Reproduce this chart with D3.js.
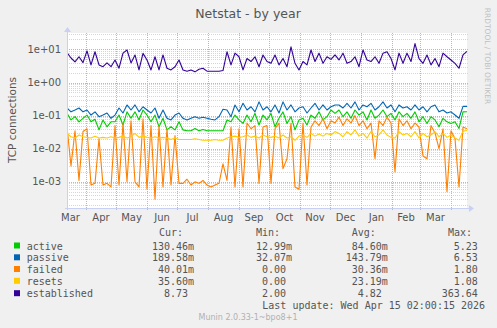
<!DOCTYPE html>
<html><head><meta charset="utf-8">
<script src="https://cdn.jsdelivr.net/npm/d3@7"></script>
<style>
html,body{margin:0;padding:0;background:#f0f0f0;}
svg{display:block;}
text{white-space:pre;}
</style></head>
<body>
<svg id="chart" width="497" height="328"></svg>
<script>
// ---- data (4-day samples from 2025-03-13) ----
const startDate = new Date(2025, 2, 13);
const stepDays = 4;
const seriesNames = ["active", "passive", "failed", "resets", "established"];
const seriesColors = ["#00cc00", "#0066b3", "#ff8000", "#ffcc00", "#330099"];

const active = [0.117,0.074,0.093,0.065,0.083,0.104,0.065,0.078,0.037,0.074,0.046,0.065,0.065,0.104,0.052,0.13,0.083,0.13,0.074,0.148,0.104,0.065,0.104,0.046,0.083,0.037,0.046,0.037,0.065,0.037,0.035,0.035,0.041,0.035,
0.038,0.035,0.035,0.035,0.035,0.035,0.074,0.065,0.104,0.074,0.058,0.104,0.065,0.117,0.052,0.104,0.074,0.117,0.046,0.083,0.13,0.058,0.093,0.037,0.074,0.083,0.052,0.104,0.083,0.13,0.074,0.093,0.148,0.117,
0.148,0.093,0.13,0.083,0.148,0.104,0.13,0.074,0.148,0.083,0.104,0.148,0.093,0.117,0.074,0.13,0.093,0.117,0.083,0.13,0.065,0.093,0.058,0.093,0.074,0.046,0.083,0.065,0.058,0.065,0.041,0.13,0.1305];

const passive = [0.17,0.13,0.148,0.17,0.13,0.148,0.104,0.13,0.093,0.104,0.12,0.083,0.104,0.17,0.12,0.21,0.148,0.21,0.13,0.185,0.148,0.12,0.17,0.083,0.148,0.083,0.074,0.104,0.12,0.083,0.074,0.083,0.093,0.083,
0.089,0.083,0.078,0.074,0.093,0.155,0.148,0.093,0.21,0.13,0.235,0.148,0.185,0.13,0.26,0.148,0.185,0.13,0.21,0.12,0.26,0.148,0.21,0.13,0.17,0.185,0.12,0.17,0.235,0.148,0.21,0.148,0.185,0.21,
0.21,0.17,0.235,0.17,0.26,0.148,0.21,0.185,0.235,0.148,0.185,0.26,0.17,0.21,0.13,0.21,0.17,0.185,0.148,0.21,0.148,0.185,0.13,0.185,0.21,0.13,0.148,0.12,0.13,0.104,0.083,0.19,0.1896];

const failed = [0.046,0.003,0.035,0.0011,0.033,0.04,0.0008,0.0009,0.02,0.0008,0.0009,0.0007,0.05,0.0008,0.06,0.001,0.07,0.001,0.0007,0.08,0.0006,0.05,0.0003,0.05,0.0007,0.04,0.0008,0.025,0.0009,0.0009,0.0012,0.0008,0.001,0.0009,
0.0011,0.0008,0.0007,0.0008,0.0009,0.0035,0.0011,0.045,0.0007,0.04,0.0007,0.06,0.04,0.05,0.0009,0.045,0.05,0.0009,0.04,0.06,0.0025,0.005,0.06,0.0007,0.0006,0.06,0.0008,0.045,0.07,0.05,0.08,0.04,0.07,0.06,
0.09,0.05,0.08,0.06,0.1,0.05,0.07,0.04,0.06,0.005,0.07,0.05,0.09,0.06,0.002,0.08,0.05,0.07,0.04,0.06,0.045,0.006,0.005,0.05,0.03,0.01,0.04,0.0005,0.035,0.02,0.0007,0.045,0.04];

const resets = [0.029,0.023,0.021,0.026,0.023,0.022,0.021,0.024,0.021,0.022,0.021,0.023,0.021,0.022,0.024,0.021,0.023,0.029,0.022,0.024,0.022,0.021,0.023,0.021,0.022,0.021,0.019,0.021,0.019,0.019,0.019,0.019,0.02,0.019,
0.018,0.018,0.018,0.019,0.018,0.018,0.021,0.023,0.024,0.022,0.023,0.026,0.022,0.024,0.021,0.026,0.023,0.022,0.024,0.021,0.026,0.021,0.023,0.018,0.024,0.026,0.022,0.029,0.024,0.028,0.024,0.029,0.026,0.033,
0.029,0.023,0.033,0.026,0.037,0.024,0.029,0.021,0.033,0.023,0.026,0.037,0.026,0.022,0.021,0.033,0.026,0.029,0.023,0.033,0.021,0.029,0.023,0.026,0.033,0.023,0.029,0.022,0.026,0.021,0.018,0.034,0.0356];

const established = [8.0,5.5,4.2,6.0,4.0,9.0,3.4,8.5,3.4,3.0,3.9,3.0,4.8,2.7,7.7,9.6,3.9,6.8,2.4,7.6,4.8,2.4,6.0,2.4,6.8,2.7,2.4,3.0,4.8,2.4,2.2,2.4,2.1,2.5,
2.7,2.2,2.2,2.2,2.2,2.3,8.5,3.4,7.7,6.0,2.4,5.3,4.3,6.0,3.0,6.8,4.3,3.8,6.8,3.4,5.3,3.0,12,3.8,2.4,4.3,3.4,9.6,4.3,7.7,3.8,6.0,5.0,6.8,
4.8,7.7,3.8,4.3,6.0,3.0,9.6,4.8,4.3,6.0,3.8,7.7,8.5,5.3,2.4,7.7,3.8,7.7,4.3,15,5.3,3.8,6.8,3.4,5.3,3.0,7.7,6.0,4.8,3.8,2.7,6.8,8.73];

const seriesValues = [active, passive, failed, resets, established];

const yTickValues = [1e-3, 1e-2, 1e-1, 1, 10];
const yTickLabels = ["1e-03", "1e-02", "1e-01", "1e+00", "1e+01"];
const monthLabels = ["Mar","Apr","May","Jun","Jul","Aug","Sep","Oct","Nov","Dec","Jan","Feb","Mar"];

const legendCur = ["130.46m", "189.58m", " 40.01m", " 35.60m", "  8.73 "];
const legendMin = ["12.99m", "32.07m", " 0.00 ", " 0.00 ", " 2.00 "];
const legendAvg = [" 84.60m", "143.79m", " 30.36m", " 23.19m", "  4.82 "];
const legendMax = ["  5.23", "  6.53", "  1.80", "  1.08", "363.64"];

// ---- drawing ----
const svg = d3.select("#chart");
const X0 = 67, X1 = 467, Y0 = 33, Y1 = 208;
const txt = "#555";

const dates = d3.range(active.length).map(i => d3.timeDay.offset(startDate, i * stepDays));
const endDate = d3.timeDay.offset(startDate, 400);
const x = d3.scaleTime().domain([startDate, endDate]).range([X0, X1]);
const y = d3.scaleLog().domain([1.62e-4, 31.3]).range([Y1, Y0]);

svg.append("rect").attr("width", 497).attr("height", 328).attr("fill", "#f0f0f0");
svg.append("rect").attr("x", X0).attr("y", Y0).attr("width", X1 - X0).attr("height", Y1 - Y0).attr("fill", "#fff");

// minor grid
const minor = [];
for (let k = -4; k <= 1; k++) for (let j = 2; j <= 9; j++) {
  const v = j * Math.pow(10, k);
  if (v > y.domain()[0] && v < y.domain()[1]) minor.push(v);
}
svg.append("g").selectAll("line").data(minor).join("line")
  .attr("x1", X0).attr("x2", X1 + 2)
  .attr("y1", d => Math.round(y(d)) + 0.5).attr("y2", d => Math.round(y(d)) + 0.5)
  .attr("stroke", "#d6d6d6").attr("stroke-width", 1).attr("stroke-dasharray", "1,1");

// major horizontal
svg.append("g").selectAll("line").data(yTickValues).join("line")
  .attr("x1", X0).attr("x2", X1 + 2)
  .attr("y1", d => Math.round(y(d)) + 0.5).attr("y2", d => Math.round(y(d)) + 0.5)
  .attr("stroke", "#f4a0a0").attr("stroke-width", 1).attr("stroke-dasharray", "1,1");

// month lines
const monthStarts = d3.timeMonth.range(d3.timeMonth.ceil(startDate), endDate);
svg.append("g").selectAll("line").data(monthStarts).join("line")
  .attr("x1", d => Math.round(x(d)) + 0.5).attr("x2", d => Math.round(x(d)) + 0.5)
  .attr("y1", Y0).attr("y2", Y1 + 3)
  .attr("stroke", "#f4a0a0").attr("stroke-width", 1).attr("stroke-dasharray", "1,1");

// month labels
const firstMonth = d3.timeMonth.floor(startDate);
svg.append("g").selectAll("text").data(monthLabels).join("text")
  .attr("x", (d, i) => {
    const m0 = d3.timeMonth.offset(firstMonth, i), m1 = d3.timeMonth.offset(firstMonth, i + 1);
    return x(new Date((m0.getTime() + m1.getTime()) / 2));
  })
  .attr("y", 221).attr("text-anchor", "middle")
  .attr("font-family", "DejaVu Sans").attr("font-size", 10).attr("fill", txt)
  .text(d => d);

// y tick labels
svg.append("g").selectAll("text").data(yTickValues).join("text")
  .attr("x", 61).attr("y", d => y(d) + 3.6).attr("text-anchor", "end")
  .attr("font-family", "DejaVu Sans").attr("font-size", 10).attr("fill", txt)
  .text((d, i) => yTickLabels[i]);

// series
svg.append("clipPath").attr("id", "clip").append("rect")
  .attr("x", X0).attr("y", Y0).attr("width", X1 - X0).attr("height", Y1 - Y0);
const line = d3.line().defined(d => d[1] > 0).x(d => x(d[0])).y(d => y(d[1]));
const gS = svg.append("g").attr("clip-path", "url(#clip)");
seriesValues.forEach((vals, si) => {
  gS.append("path").datum(vals.map((v, i) => [dates[i], v]))
    .attr("d", line).attr("fill", "none")
    .attr("stroke", seriesColors[si]).attr("stroke-width", 1.1).attr("stroke-linejoin", "round");
});

// axes
const axCol = "#c8d0f4";
svg.append("line").attr("x1", X0 - 2).attr("x2", X1 + 2).attr("y1", Y1 + 0.5).attr("y2", Y1 + 0.5).attr("stroke", axCol);
svg.append("line").attr("x1", X0 + 0.5).attr("x2", X0 + 0.5).attr("y1", Y1 + 2).attr("y2", Y0 - 2).attr("stroke", axCol);
svg.append("path").attr("d", `M${X1 + 2},${Y1 - 3} L${X1 + 7},${Y1 + 0.5} L${X1 + 2},${Y1 + 4} Z`).attr("fill", axCol);
svg.append("path").attr("d", `M${X0 - 3},${Y0 - 1} L${X0 + 0.5},${Y0 - 6} L${X0 + 4},${Y0 - 1} Z`).attr("fill", axCol);

// title & labels
svg.append("text").attr("x", 248).attr("y", 18).attr("text-anchor", "middle")
  .attr("font-family", "DejaVu Sans").attr("font-size", 12.5).attr("fill", txt).text("Netstat - by year");
svg.append("text").attr("transform", "translate(15.5,120) rotate(-90)").attr("text-anchor", "middle")
  .attr("font-family", "DejaVu Sans").attr("font-size", 10.5).attr("fill", txt).text("TCP connections");
svg.append("text").attr("transform", "translate(485,56) rotate(90)").attr("text-anchor", "middle")
  .attr("font-family", "DejaVu Sans").attr("font-size", 7.5).attr("fill", "#c0c0c0").text("RRDTOOL / TOBI OETIKER");

// legend
const mono = "DejaVu Sans Mono";
const hdrY = 236;
[["Cur:", 159], ["Min:", 256], ["Avg:", 351.7], ["Max:", 448]].forEach(([t, hx]) => {
  svg.append("text").attr("x", hx).attr("y", hdrY).attr("font-family", mono).attr("font-size", 10).attr("fill", txt).text(t);
});
const rowY = [249.5, 261.3, 273, 284.8, 297.2];
seriesNames.forEach((n, i) => {
  const ry = rowY[i];
  svg.append("rect").attr("x", 14).attr("y", ry - 7).attr("width", 6).attr("height", 6).attr("fill", seriesColors[i]);
  svg.append("text").attr("x", 26.7).attr("y", ry).attr("font-family", mono).attr("font-size", 10).attr("fill", txt).text(n);
  svg.append("text").attr("x", 152).attr("y", ry).attr("font-family", mono).attr("font-size", 10).attr("fill", txt).text(legendCur[i]);
  svg.append("text").attr("x", 256).attr("y", ry).attr("font-family", mono).attr("font-size", 10).attr("fill", txt).text(legendMin[i]);
  svg.append("text").attr("x", 345.7).attr("y", ry).attr("font-family", mono).attr("font-size", 10).attr("fill", txt).text(legendAvg[i]);
  svg.append("text").attr("x", 441.7).attr("y", ry).attr("font-family", mono).attr("font-size", 10).attr("fill", txt).text(legendMax[i]);
});
svg.append("text").attr("x", 262.3).attr("y", 309.3).attr("font-family", mono).attr("font-size", 10).attr("fill", txt)
  .text("Last update: Wed Apr 15 02:00:15 2026");
svg.append("text").attr("x", 248).attr("y", 319.5).attr("text-anchor", "middle").attr("font-family", "DejaVu Sans")
  .attr("font-size", 8).attr("fill", "#b0b0b0").text("Munin 2.0.33-1~bpo8+1");
</script>
</body></html>
